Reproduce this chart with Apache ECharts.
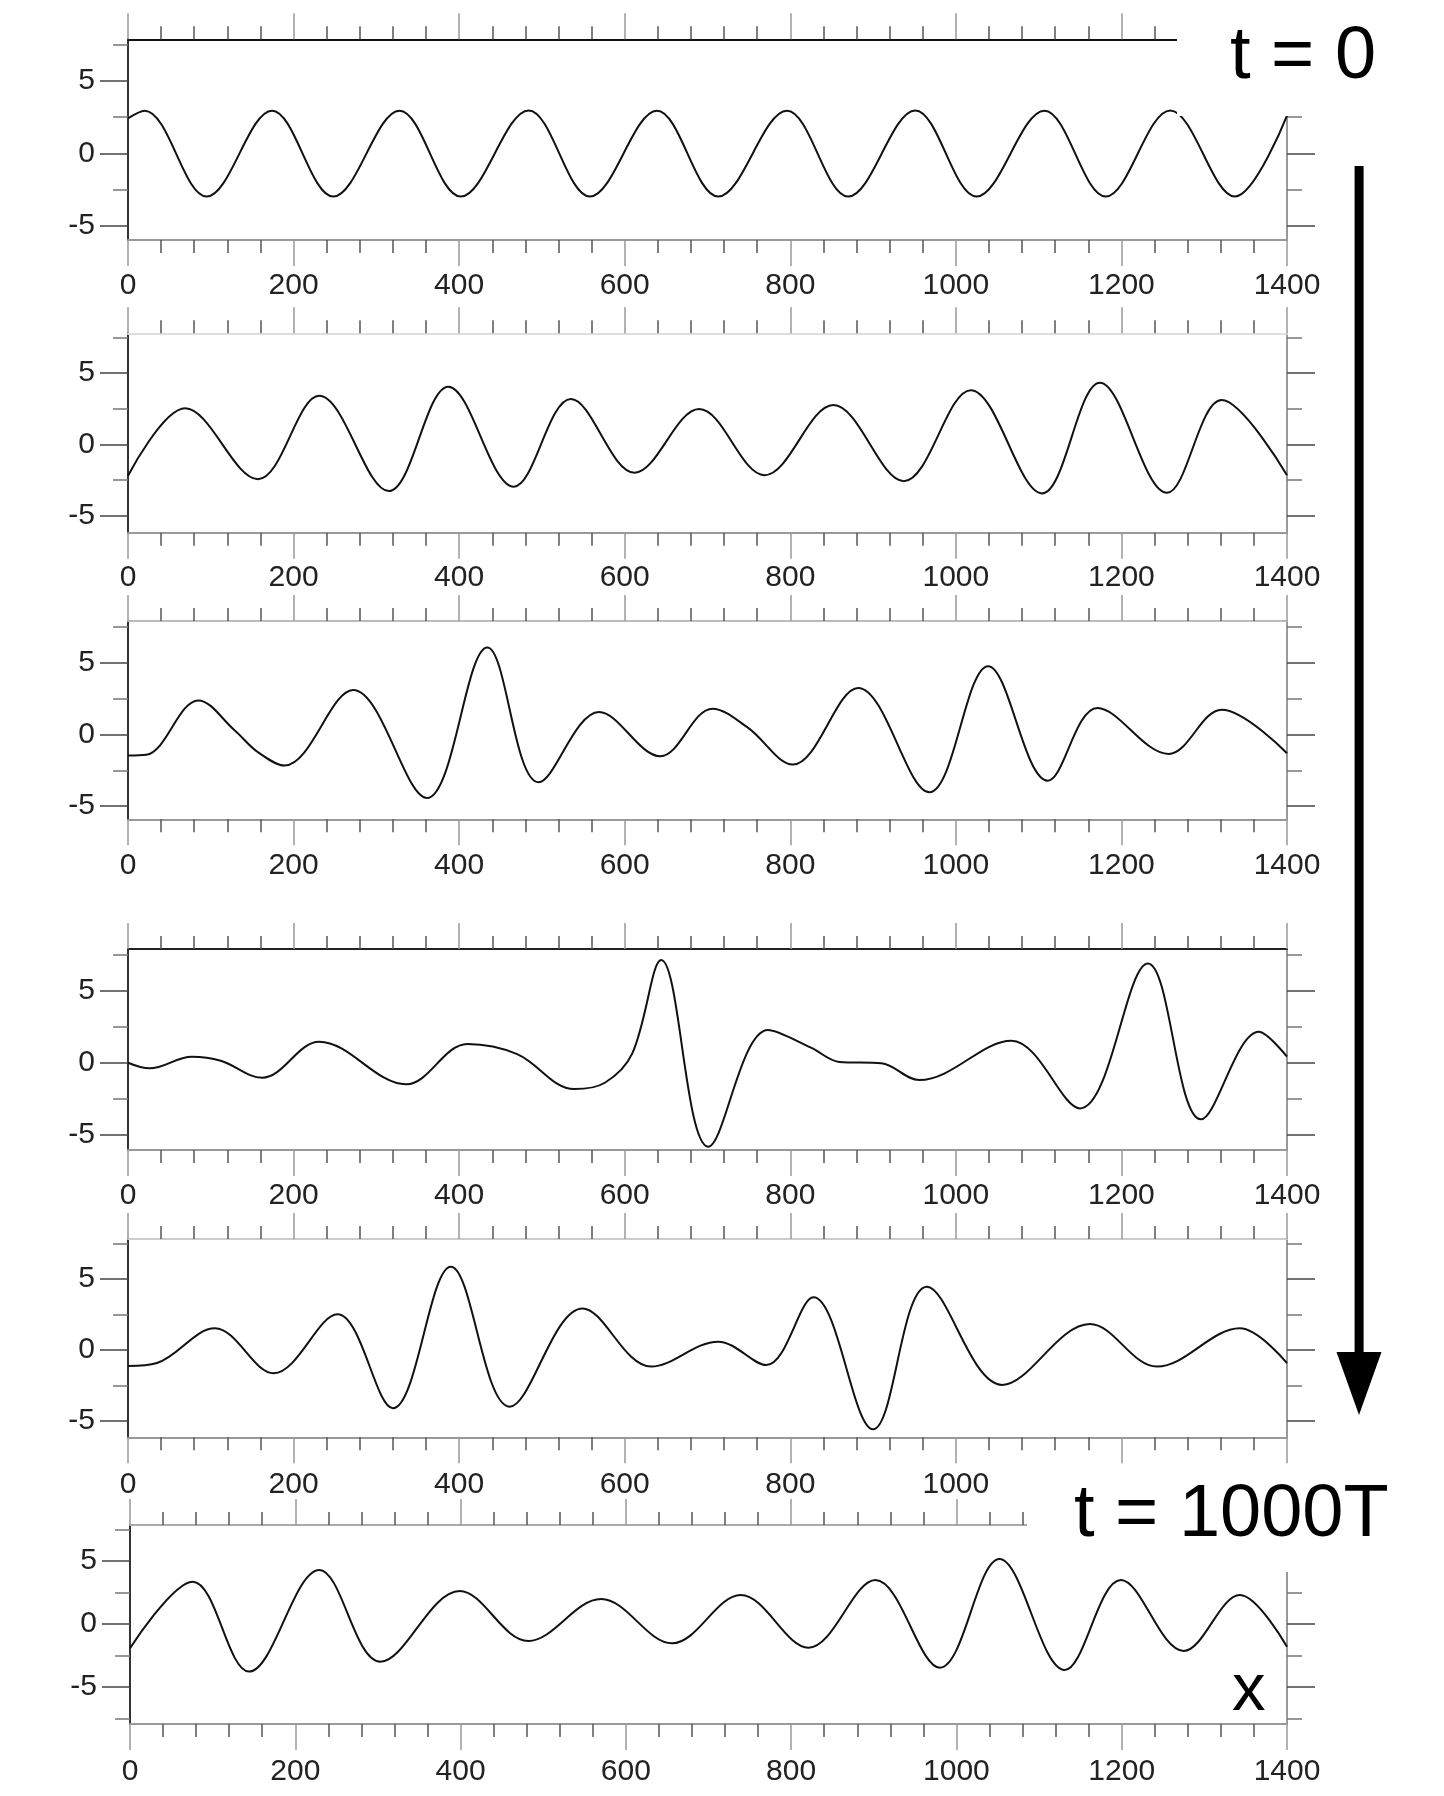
<!DOCTYPE html>
<html>
<head>
<meta charset="utf-8">
<title>wave evolution</title>
<script src="https://cdn.jsdelivr.net/npm/echarts@6.0.0/dist/echarts.min.js"></script>
<style>
  html, body { margin: 0; padding: 0; background: #fff; }
  #chart { width: 1444px; height: 1796px; }
</style>
</head>
<body>
<div id="chart"></div>
<script>
  const waveT0 = [[0, 2.41], [20, 2.93], [95, -2.98], [174, 2.93], [248, -2.98], [328, 2.93], [402, -2.98],
    [484, 2.95], [558, -2.98], [639, 2.93], [713, -2.98], [796, 2.93], [870, -2.98], [951, 2.95],
    [1025, -2.98], [1107, 2.93], [1181, -2.98], [1259, 2.95], [1337, -2.98], [1400, 2.6]];
  const waveT1 = [[0, -2.2], [69, 2.53], [157, -2.44], [231, 3.41], [315, -3.28], [387, 4.05], [466, -2.97],
    [535, 3.18], [612, -1.99], [690, 2.48], [769, -2.16], [852, 2.76], [937, -2.58], [1018, 3.81],
    [1104, -3.44], [1174, 4.33], [1255, -3.4], [1321, 3.11], [1400, -2.16]];
  const waveT2 = [[0, -1.47], [22, -1.42], [85, 2.38], [129, 0.28], [157, -1.24], [189, -2.17], [272, 3.1],
    [361, -4.44], [434, 6.07], [496, -3.34], [569, 1.57], [643, -1.52], [706, 1.8], [748, 0.51],
    [803, -2.1], [882, 3.25], [968, -4.04], [1039, 4.77], [1111, -3.23], [1171, 1.85], [1257, -1.36],
    [1321, 1.73], [1400, -1.31]];
  const waveT3 = [[0, 0], [26, -0.39], [77, 0.42], [112, 0.14], [162, -1.04], [231, 1.46], [336, -1.5],
    [410, 1.3], [470, 0.6], [539, -1.83], [576, -1.39], [609, 0.63], [644, 7.13], [701, -5.83],
    [773, 2.27], [825, 1.05], [859, 0.06], [910, -0.04], [956, -1.2], [1067, 1.53], [1150, -3.17],
    [1232, 6.9], [1296, -3.93], [1366, 2.15], [1400, 0.42]];
  const waveT4 = [[0, -1.13], [35, -0.92], [105, 1.53], [176, -1.64], [253, 2.51], [320, -4.1], [390, 5.87],
    [461, -3.99], [549, 2.93], [632, -1.17], [713, 0.59], [771, -1.06], [828, 3.71], [900, -5.59],
    [965, 4.46], [1056, -2.46], [1162, 1.83], [1243, -1.17], [1343, 1.53], [1400, -0.92]];
  const waveT5 = [[0, -1.93], [76, 3.36], [144, -3.78], [229, 4.29], [303, -2.99], [399, 2.62], [482, -1.35],
    [570, 1.98], [656, -1.53], [739, 2.3], [821, -1.88], [902, 3.49], [980, -3.47], [1052, 5.16],
    [1131, -3.65], [1199, 3.49], [1275, -2.14], [1343, 2.3], [1400, -1.8]];

  const waves = [waveT0, waveT1, waveT2, waveT3, waveT4, waveT5];
  const yLabelValues = [-5, 0, 5];
  const yMinorValues = [-7.5, -2.5, 2.5, 7.5];
  const xMax = 1400;

  // panel frames (pixels) and y extents
  const panels = [
    { left: 128, width: 1159, top: 39.3, height: 200.7, ymin: -5.97, ymax: 7.85, topColor: '#111', margin: 31 },
    { left: 128, width: 1159, top: 333.3, height: 199.4, ymin: -6.2, ymax: 7.8, topColor: '#ddd', margin: 30 },
    { left: 128, width: 1159, top: 621, height: 198.3, ymin: -5.92, ymax: 7.92, topColor: '#bbb', margin: 31 },
    { left: 128, width: 1159, top: 949, height: 201, ymin: -6.06, ymax: 7.9, topColor: '#222', margin: 31 },
    { left: 128, width: 1159, top: 1239, height: 198.3, ymin: -6.15, ymax: 7.82, topColor: '#ccc', margin: 32 },
    { left: 130, width: 1157, top: 1525, height: 199, ymin: -7.94, ymax: 7.86, topColor: '#aaa', margin: 33 }
  ];

  const font = '"Liberation Sans", Arial, sans-serif';
  const plain = v => String(v);
  const grids = [], xAxes = [], yAxes = [], series = [];

  panels.forEach((p, i) => {
    grids.push({ left: p.left, top: p.top, width: p.width, height: p.height, outerBoundsMode: 'none' });
    const inRange = v => v >= p.ymin && v <= p.ymax;
    const xBase = (pos, lineColor, showLabel) => ({
      type: 'value', gridIndex: i, position: pos, min: 0, max: xMax, interval: 200,
      axisLine: { show: true, onZero: false, lineStyle: { color: lineColor, width: 2 } },
      axisTick: { show: true, length: 26, lineStyle: { color: '#999', width: 1.5 } },
      minorTick: { show: true, splitNumber: 5, length: 13, lineStyle: { color: '#555', width: 1.5 } },
      axisLabel: { show: showLabel, margin: p.margin, fontSize: 30, color: '#222', fontFamily: font,
        showMinLabel: true, showMaxLabel: true, formatter: plain },
      splitLine: { show: false }, minorSplitLine: { show: false }
    });
    xAxes.push(xBase('bottom', '#999', true));
    xAxes.push(xBase('top', p.topColor, false));

    const yBase = (pos, major) => ({
      type: 'value', gridIndex: i, position: pos, min: p.ymin, max: p.ymax,
      axisLine: { show: major, onZero: false,
        lineStyle: { color: pos === 'left' ? '#333' : '#777', width: pos === 'left' ? 2 : 1.5 } },
      axisTick: { show: true, length: major ? 28 : 15,
        customValues: (major ? yLabelValues : yMinorValues).filter(inRange),
        lineStyle: { color: major ? '#444' : '#777', width: 1.5 } },
      axisLabel: { show: major && pos === 'left', customValues: yLabelValues, margin: 33,
        fontSize: 30, color: '#222', fontFamily: font, formatter: plain },
      splitLine: { show: false }
    });
    yAxes.push(yBase('left', true), yBase('left', false), yBase('right', true), yBase('right', false));

    series.push({
      type: 'line', xAxisIndex: 2 * i, yAxisIndex: 4 * i, data: waves[i],
      smooth: 0.36, symbol: 'none', showSymbol: false,
      lineStyle: { color: '#111', width: 2 }, silent: true
    });
  });

  const option = {
    animation: false,
    backgroundColor: '#fff',
    grid: grids,
    xAxis: xAxes,
    yAxis: yAxes,
    series: series,
    graphic: { elements: [
      // white patches behind the time labels
      { type: 'rect', z: 100, shape: { x: 1177, y: 0, width: 267, height: 116 }, style: { fill: '#fff' } },
      { type: 'rect', z: 100, shape: { x: 1027, y: 1465, width: 417, height: 107 }, style: { fill: '#fff' } },
      { type: 'text', z: 101, x: 1230, y: 58,
        style: { text: 't = 0', font: '74px "Liberation Sans", Arial, sans-serif', fill: '#000', verticalAlign: 'middle' } },
      { type: 'text', z: 101, x: 1074, y: 1516,
        style: { text: 't = 1000T', font: '74px "Liberation Sans", Arial, sans-serif', fill: '#000', verticalAlign: 'middle' } },
      { type: 'text', z: 101, x: 1232, y: 1692,
        style: { text: 'x', font: '67px "Liberation Sans", Arial, sans-serif', fill: '#000', verticalAlign: 'middle' } },
      // time arrow
      { type: 'rect', z: 101, shape: { x: 1354.6, y: 166, width: 9, height: 1188 }, style: { fill: '#000' } },
      { type: 'polygon', z: 101, shape: { points: [[1336.5, 1352], [1381.5, 1352], [1359, 1415]] }, style: { fill: '#000' } }
    ] }
  };

  const myChart = echarts.init(document.getElementById('chart'), null, { renderer: 'canvas' });
  myChart.setOption(option);
</script>
</body>
</html>
